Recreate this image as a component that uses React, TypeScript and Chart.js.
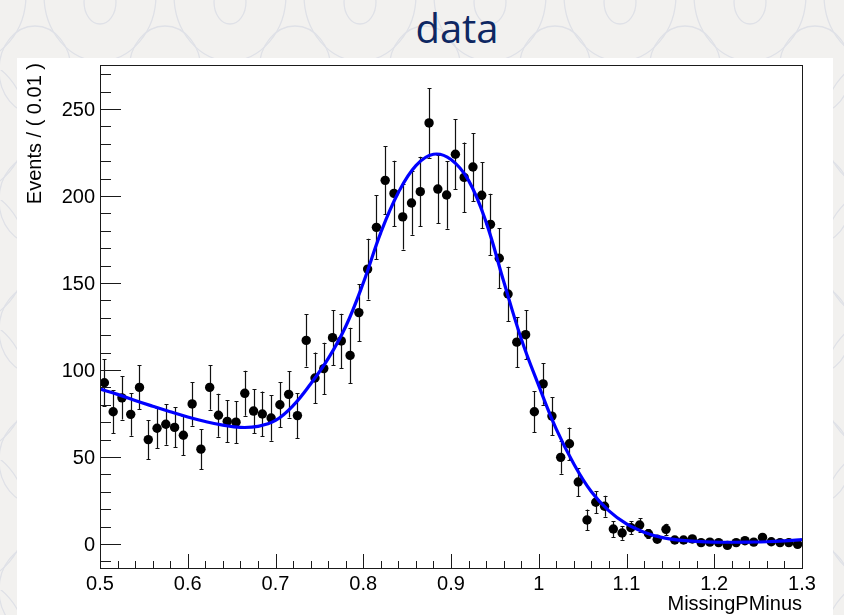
import { useEffect, useRef } from "react";
import { Chart, registerables } from "chart.js";

Chart.register(...registerables);

// Histogram bins of MissingPMinus (bin width 0.01)
const binCenters = [
  0.505, 0.515, 0.525, 0.535, 0.545, 0.555, 0.565, 0.575, 0.585, 0.595,
  0.605, 0.615, 0.625, 0.635, 0.645, 0.655, 0.665, 0.675, 0.685, 0.695,
  0.705, 0.715, 0.725, 0.735, 0.745, 0.755, 0.765, 0.775, 0.785, 0.795,
  0.805, 0.815, 0.825, 0.835, 0.845, 0.855, 0.865, 0.875, 0.885, 0.895,
  0.905, 0.915, 0.925, 0.935, 0.945, 0.955, 0.965, 0.975, 0.985, 0.995,
  1.005, 1.015, 1.025, 1.035, 1.045, 1.055, 1.065, 1.075, 1.085, 1.095,
  1.105, 1.115, 1.125, 1.135, 1.145, 1.155, 1.165, 1.175, 1.185, 1.195,
  1.205, 1.215, 1.225, 1.235, 1.245, 1.255, 1.265, 1.275, 1.285, 1.295,
];

const eventCounts = [
  92.7, 76, 84, 74.5, 90, 60, 66.5, 68.8, 67, 62.5,
  80.5, 54.5, 90, 74, 70.5, 70, 86.6, 76.4, 74.7, 72.4,
  80, 86, 73.8, 117, 95.4, 100.8, 118.6, 116.7, 108.4, 133,
  158, 182, 209, 201.5, 188, 196, 202.5, 242, 204, 200.6,
  224, 210.7, 216.7, 200.4, 183.7, 164.2, 143.7, 116, 120.3, 76,
  92, 73.5, 49.8, 57.6, 35.6, 13.8, 24, 21.7, 8.6, 6.3,
  9.4, 10.9, 5.9, 2.7, 8.4, 2.3, 2.3, 2.9, 0.8, 1.1,
  0.8, -0.8, 0.8, 1.9, 1.1, 3.8, 1.3, 0.8, 0.8, -0.2,
];

const countErrors = [
  13.4, 12.3, 12.5, 12.3, 12.7, 11.2, 11.5, 11.7, 11.5, 11.3,
  12.5, 11.6, 12.9, 12.3, 12.0, 12.0, 12.9, 12.7, 12.9, 13.1,
  13.0, 13.3, 13.0, 15.0, 14.6, 14.8, 15.8, 15.6, 15.9, 16.3,
  17.5, 18.4, 19.6, 18.8, 18.8, 18.2, 20.0, 20.0, 19.6, 19.4,
  20.0, 20.0, 19.5, 19.0, 17.6, 17.2, 15.6, 14.4, 14.2, 11.9,
  12.0, 11.0, 9.5, 9.3, 8.0, 6.0, 6.3, 6.0, 4.6, 3.8,
  3.8, 3.8, 2.5, 1.5, 3.3, 1.5, 1.5, 1.5, 1.0, 1.0,
  1.0, 1.0, 1.0, 1.2, 1.0, 1.5, 1.0, 1.0, 1.0, 1.0,
];

// Fitted model (signal peak on a smooth background)
const fitX = [
  0.5, 0.52, 0.54, 0.56, 0.58, 0.6, 0.62, 0.64, 0.66, 0.68,
  0.7, 0.72, 0.74, 0.76, 0.78, 0.8, 0.82, 0.84, 0.86, 0.88,
  0.9, 0.92, 0.94, 0.96, 0.98, 1.0, 1.02, 1.04, 1.06, 1.08,
  1.1, 1.12, 1.14, 1.16, 1.18, 1.2, 1.22, 1.24, 1.26, 1.28, 1.3,
];
const fitY = [
  89, 86, 82.5, 79.2, 76, 73, 70.4, 68.3, 67.0, 67.6,
  71, 79.5, 92, 106.5, 125, 150, 179, 202, 217.5, 224,
  221, 209, 185, 151, 118, 91, 66, 46, 30, 19,
  11.5, 6.8, 3.8, 2.2, 1.5, 1.1, 1.0, 1.1, 1.3, 1.8, 2.5,
];

const xTickValues = [0.5, 0.6, 0.7, 0.8, 0.9, 1.0, 1.1, 1.2, 1.3];
const xTickLabels = ["0.5", "0.6", "0.7", "0.8", "0.9", "1", "1.1", "1.2", "1.3"];
const yTickValues = [0, 50, 100, 150, 200, 250];
const yTickLabels = ["0", "50", "100", "150", "200", "250"];

const xTitle = "MissingPMinus";
const yTitle = "Events / ( 0.01 )";
const plotTitle = "data";

const X_MIN = 0.5;
const X_MAX = 1.3;
const Y_MIN = -13.8;
const Y_MAX = 275.3;

const LABEL_FONT = '20px "Liberation Sans", Arimo, Arial, sans-serif';

const rootFramePlugin = {
  id: "rootFrame",
  beforeDatasetsDraw(chart: any) {
    const { ctx, chartArea, scales } = chart;
    const xs = scales.x;
    const ys = scales.y;
    ctx.save();
    ctx.beginPath();
    ctx.rect(chartArea.left, chartArea.top, chartArea.right - chartArea.left, chartArea.bottom - chartArea.top);
    ctx.clip();
    ctx.strokeStyle = "#111";
    ctx.lineWidth = 1.2;
    for (let i = 0; i < binCenters.length; i++) {
      const x = Math.round(xs.getPixelForValue(binCenters[i])) + 0.5;
      const yHi = ys.getPixelForValue(eventCounts[i] + countErrors[i]);
      const yLo = ys.getPixelForValue(eventCounts[i] - countErrors[i]);
      ctx.beginPath();
      ctx.moveTo(x, yHi);
      ctx.lineTo(x, yLo);
      ctx.moveTo(x - 2, Math.round(yHi) + 0.5);
      ctx.lineTo(x + 2, Math.round(yHi) + 0.5);
      ctx.moveTo(x - 2, Math.round(yLo) + 0.5);
      ctx.lineTo(x + 2, Math.round(yLo) + 0.5);
      ctx.stroke();
    }
    ctx.restore();
  },
  afterDraw(chart: any) {
    const { ctx, chartArea, scales } = chart;
    const xs = scales.x;
    const ys = scales.y;
    const { left, right, top, bottom } = chartArea;
    ctx.save();
    ctx.strokeStyle = "#1a1a1a";
    ctx.lineWidth = 1;
    ctx.strokeRect(Math.round(left) + 0.5, Math.round(top) + 0.5, Math.round(right - left), Math.round(bottom - top));

    // y ticks: major every 50, minor every 10
    ctx.beginPath();
    for (let v = -10; v <= 270; v += 10) {
      const y = Math.round(ys.getPixelForValue(v)) + 0.5;
      const len = v % 50 === 0 ? 21 : 11;
      ctx.moveTo(left, y);
      ctx.lineTo(left + len, y);
    }
    // x ticks: major every 0.1, minor every 0.02
    for (let k = 0; k <= 40; k++) {
      const v = X_MIN + k * 0.02;
      const x = Math.round(xs.getPixelForValue(v)) + 0.5;
      const len = k % 5 === 0 ? 14 : 7;
      ctx.moveTo(x, bottom);
      ctx.lineTo(x, bottom - len);
    }
    ctx.stroke();

    ctx.fillStyle = "#000";
    ctx.font = LABEL_FONT;
    ctx.textAlign = "right";
    ctx.textBaseline = "alphabetic";
    yTickValues.forEach((v, i) => {
      ctx.fillText(yTickLabels[i], left - 5, ys.getPixelForValue(v) + 7);
    });
    ctx.textAlign = "center";
    xTickValues.forEach((v, i) => {
      ctx.fillText(xTickLabels[i], xs.getPixelForValue(v), bottom + 22);
    });

    ctx.textAlign = "right";
    ctx.fillText(xTitle, right, bottom + 41.5);

    ctx.translate(23.5, top - 2);
    ctx.rotate(-Math.PI / 2);
    ctx.textAlign = "right";
    ctx.fillText(yTitle, 0, 0);
    ctx.restore();
  },
};

function FitChart() {
  const canvasRef = useRef<HTMLCanvasElement | null>(null);

  useEffect(() => {
    const canvas = canvasRef.current;
    if (!canvas) return;
    const points = binCenters.map((x, i) => ({ x, y: eventCounts[i] }));
    const curve = fitX.map((x, i) => ({ x, y: fitY[i] }));
    const chart = new Chart(canvas, {
      type: "scatter",
      data: {
        datasets: [
          {
            label: "fit",
            data: curve,
            showLine: true,
            borderColor: "#0000ff",
            borderWidth: 3.2,
            pointRadius: 0,
            tension: 0.4,
            fill: false,
            order: 0,
          } as any,
          {
            label: "data",
            data: points,
            showLine: false,
            pointRadius: 4.7,
            pointBackgroundColor: "#000",
            pointBorderColor: "#000",
            pointBorderWidth: 0,
            order: 1,
          },
        ],
      },
      options: {
        animation: false,
        responsive: false,
        devicePixelRatio: 1,
        layout: { padding: { left: 83, right: 31, top: 7, bottom: 47 } },
        scales: {
          x: { type: "linear", min: X_MIN, max: X_MAX, display: false },
          y: { type: "linear", min: Y_MIN, max: Y_MAX, display: false },
        },
        plugins: {
          legend: { display: false },
          tooltip: { enabled: false },
        },
      },
      plugins: [rootFramePlugin],
    });
    return () => chart.destroy();
  }, []);

  return (
    <canvas
      ref={canvasRef}
      width={816}
      height={557}
      style={{ position: "absolute", left: 17, top: 58, width: 816, height: 557, background: "#fff" }}
    />
  );
}

function BackgroundPattern() {
  return (
    <svg width={844} height={615} style={{ position: "absolute", left: 0, top: 0 }}>
      <defs>
        <pattern id="ornament" x={35} y={-60} width={130} height={130} patternUnits="userSpaceOnUse">
          <g fill="none" stroke="#dfe1e7" strokeWidth={1.3}>
            <ellipse cx={65} cy={62} rx={16} ry={22} />
            <ellipse cx={65} cy={55} rx={56} ry={66} />
            <ellipse cx={0} cy={130} rx={36} ry={44} />
            <ellipse cx={130} cy={130} rx={36} ry={44} />
            <ellipse cx={0} cy={0} rx={36} ry={44} />
            <ellipse cx={130} cy={0} rx={36} ry={44} />
          </g>
        </pattern>
      </defs>
      <rect x={0} y={0} width={844} height={615} fill="#f2f1ef" />
      <rect x={0} y={0} width={844} height={615} fill="url(#ornament)" />
    </svg>
  );
}

export default function App() {
  return (
    <div
      style={{
        position: "fixed",
        left: 0,
        top: 0,
        width: 844,
        height: 615,
        overflow: "hidden",
        background: "#f2f1ef",
      }}
    >
      <BackgroundPattern />
      <div
        style={{
          position: "absolute",
          left: 357,
          top: 8,
          width: 200,
          textAlign: "center",
          fontFamily: '"Open Sans", "Noto Sans", sans-serif',
          fontSize: 40,
          lineHeight: "40px",
          color: "#0e2762",
        }}
      >
        {plotTitle}
      </div>
      <FitChart />
    </div>
  );
}
